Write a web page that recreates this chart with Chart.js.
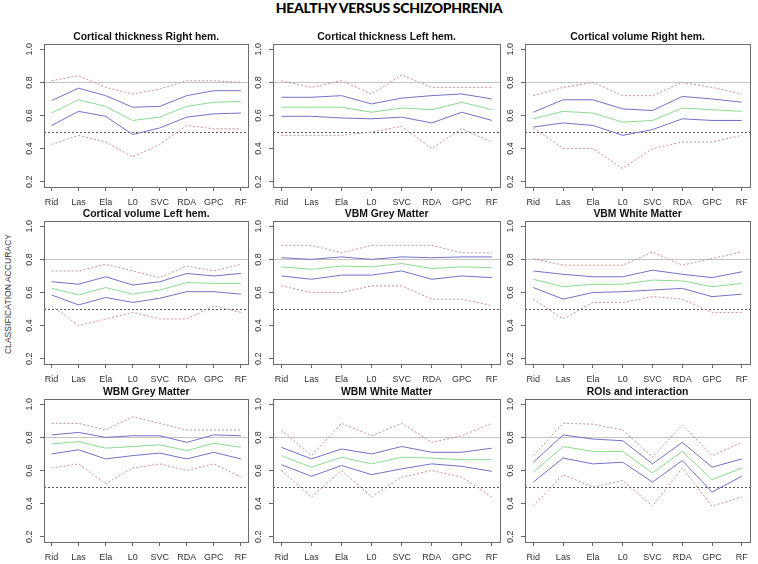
<!DOCTYPE html>
<html>
<head>
<meta charset="utf-8">
<script src="https://cdn.jsdelivr.net/npm/chart.js@4.4.0/dist/chart.umd.min.js"></script>
<style>
  html, body { margin: 0; padding: 0; background: #ffffff; }
  #page { position: relative; width: 758px; height: 564px; overflow: hidden; background: #fff; }
  .panel { position: absolute; }
  #mainTitle { position: absolute; left: 0; width: 778px; top: -1px; text-align: center;
    font-family: Lato, "Open Sans", sans-serif; font-weight: 900; font-size: 14px; color: #000; letter-spacing: -0.3px; }
  #yTitle { position: absolute; left: 8px; top: 294px; width: 0; height: 0; }
  #yTitle span { position: absolute; white-space: nowrap; transform: translate(-50%, -50%) rotate(-90deg);
    font-family: "Liberation Sans", Arial, sans-serif; font-size: 8.6px; color: #333; left: 0; top: 0; }
</style>
</head>
<body>
<div id="page">
  <div id="mainTitle">HEALTHY VERSUS SCHIZOPHRENIA</div>
  <div id="yTitle"><span>CLASSIFICATION ACCURACY</span></div>
</div>
<script>
// ---------- data ----------
const categories = ['Rid', 'Las', 'Ela', 'L0', 'SVC', 'RDA', 'GPC', 'RF'];
const yTickValues = [0.2, 0.4, 0.6, 0.8, 1.0];
const chanceLevel = 0.5;
const targetLevel = 0.8;

const panelTitles = [
  'Cortical thickness Right hem.', 'Cortical thickness Left hem.', 'Cortical volume Right hem.',
  'Cortical volume Left hem.', 'VBM Grey Matter', 'VBM White Matter',
  'WBM Grey Matter', 'WBM White Matter', 'ROIs and interaction'
];

// Cortical thickness Right hem.
const ctRightMax   = [0.81, 0.84, 0.77, 0.73, 0.76, 0.81, 0.81, 0.80];
const ctRightUpper = [0.69, 0.765, 0.72, 0.65, 0.655, 0.72, 0.75, 0.75];
const ctRightMean  = [0.615, 0.695, 0.655, 0.57, 0.59, 0.655, 0.68, 0.685];
const ctRightLower = [0.54, 0.625, 0.595, 0.485, 0.525, 0.59, 0.61, 0.615];
const ctRightMin   = [0.425, 0.48, 0.44, 0.35, 0.425, 0.54, 0.52, 0.52];

// Cortical thickness Left hem.
const ctLeftMax   = [0.81, 0.77, 0.81, 0.73, 0.845, 0.77, 0.77, 0.77];
const ctLeftUpper = [0.71, 0.71, 0.72, 0.67, 0.705, 0.72, 0.73, 0.70];
const ctLeftMean  = [0.65, 0.65, 0.65, 0.62, 0.645, 0.635, 0.68, 0.635];
const ctLeftLower = [0.595, 0.595, 0.585, 0.58, 0.59, 0.555, 0.62, 0.57];
const ctLeftMin   = [0.48, 0.48, 0.48, 0.50, 0.535, 0.40, 0.52, 0.44];

// Cortical volume Right hem.
const cvRightMax   = [0.72, 0.77, 0.80, 0.72, 0.72, 0.80, 0.77, 0.73];
const cvRightUpper = [0.62, 0.695, 0.695, 0.64, 0.63, 0.715, 0.70, 0.68];
const cvRightMean  = [0.58, 0.625, 0.615, 0.56, 0.57, 0.645, 0.635, 0.625];
const cvRightLower = [0.53, 0.555, 0.54, 0.48, 0.515, 0.58, 0.57, 0.57];
const cvRightMin   = [0.525, 0.40, 0.40, 0.28, 0.40, 0.44, 0.44, 0.48];

// Cortical volume Left hem.
const cvLeftMax   = [0.73, 0.73, 0.77, 0.73, 0.69, 0.76, 0.73, 0.77];
const cvLeftUpper = [0.665, 0.65, 0.695, 0.645, 0.665, 0.715, 0.70, 0.715];
const cvLeftMean  = [0.625, 0.585, 0.63, 0.59, 0.615, 0.66, 0.655, 0.655];
const cvLeftLower = [0.585, 0.525, 0.57, 0.54, 0.565, 0.605, 0.605, 0.59];
const cvLeftMin   = [0.52, 0.40, 0.44, 0.48, 0.44, 0.44, 0.52, 0.48];

// VBM Grey Matter
const vbmGreyMax   = [0.885, 0.885, 0.84, 0.885, 0.885, 0.885, 0.84, 0.84];
const vbmGreyUpper = [0.81, 0.80, 0.815, 0.80, 0.815, 0.81, 0.815, 0.815];
const vbmGreyMean  = [0.755, 0.74, 0.76, 0.755, 0.775, 0.745, 0.755, 0.75];
const vbmGreyLower = [0.70, 0.68, 0.705, 0.705, 0.73, 0.68, 0.70, 0.69];
const vbmGreyMin   = [0.64, 0.60, 0.60, 0.64, 0.64, 0.56, 0.56, 0.52];

// VBM White Matter
const vbmWhiteMax   = [0.805, 0.765, 0.765, 0.765, 0.845, 0.765, 0.805, 0.845];
const vbmWhiteUpper = [0.73, 0.71, 0.695, 0.695, 0.735, 0.71, 0.69, 0.725];
const vbmWhiteMean  = [0.68, 0.635, 0.65, 0.65, 0.675, 0.67, 0.635, 0.655];
const vbmWhiteLower = [0.63, 0.56, 0.60, 0.605, 0.615, 0.625, 0.575, 0.59];
const vbmWhiteMin   = [0.56, 0.44, 0.54, 0.54, 0.575, 0.56, 0.48, 0.48];

// WBM Grey Matter
const wbmGreyMax   = [0.885, 0.885, 0.845, 0.925, 0.885, 0.845, 0.845, 0.845];
const wbmGreyUpper = [0.815, 0.83, 0.80, 0.81, 0.81, 0.77, 0.815, 0.81];
const wbmGreyMean  = [0.76, 0.775, 0.735, 0.745, 0.755, 0.72, 0.765, 0.74];
const wbmGreyLower = [0.70, 0.725, 0.67, 0.69, 0.705, 0.67, 0.71, 0.67];
const wbmGreyMin   = [0.615, 0.64, 0.52, 0.615, 0.64, 0.60, 0.64, 0.56];

// WBM White Matter
const wbmWhiteMax   = [0.845, 0.69, 0.885, 0.81, 0.885, 0.77, 0.81, 0.885];
const wbmWhiteUpper = [0.74, 0.67, 0.73, 0.70, 0.745, 0.71, 0.71, 0.735];
const wbmWhiteMean  = [0.69, 0.62, 0.68, 0.64, 0.68, 0.675, 0.665, 0.665];
const wbmWhiteLower = [0.635, 0.565, 0.63, 0.575, 0.61, 0.64, 0.625, 0.595];
const wbmWhiteMin   = [0.60, 0.44, 0.60, 0.44, 0.56, 0.60, 0.56, 0.44];

// ROIs and interaction
const roisMax   = [0.69, 0.885, 0.88, 0.845, 0.68, 0.875, 0.69, 0.77];
const roisUpper = [0.65, 0.815, 0.79, 0.78, 0.64, 0.77, 0.62, 0.67];
const roisMean  = [0.59, 0.745, 0.715, 0.715, 0.585, 0.715, 0.545, 0.615];
const roisLower = [0.53, 0.675, 0.64, 0.65, 0.53, 0.66, 0.47, 0.565];
const roisMin   = [0.385, 0.575, 0.50, 0.54, 0.385, 0.615, 0.385, 0.44];

const panelSeries = [
  [ctRightMax, ctRightUpper, ctRightMean, ctRightLower, ctRightMin],
  [ctLeftMax, ctLeftUpper, ctLeftMean, ctLeftLower, ctLeftMin],
  [cvRightMax, cvRightUpper, cvRightMean, cvRightLower, cvRightMin],
  [cvLeftMax, cvLeftUpper, cvLeftMean, cvLeftLower, cvLeftMin],
  [vbmGreyMax, vbmGreyUpper, vbmGreyMean, vbmGreyLower, vbmGreyMin],
  [vbmWhiteMax, vbmWhiteUpper, vbmWhiteMean, vbmWhiteLower, vbmWhiteMin],
  [wbmGreyMax, wbmGreyUpper, wbmGreyMean, wbmGreyLower, wbmGreyMin],
  [wbmWhiteMax, wbmWhiteUpper, wbmWhiteMean, wbmWhiteLower, wbmWhiteMin],
  [roisMax, roisUpper, roisMean, roisLower, roisMin]
];

// ---------- layout / style ----------
const frameLeft  = [44, 273, 525];
const frameRight = [251, 502, 752];
const frameTop   = [44, 221, 399];
const frameBot   = [187, 364, 542];
const Y_AXIS_W = 40, X_AXIS_H = 22, TITLE_H = 13, RIGHT_PAD = 2;

const RED = '#d48c8c', BLUE = '#7272c6', GREEN = '#8cdc8c';
const seriesStyles = [
  { color: RED, dash: [2, 2] },
  { color: BLUE, dash: [] },
  { color: GREEN, dash: [] },
  { color: BLUE, dash: [] },
  { color: RED, dash: [2, 2] }
];

const framePlugin = {
  id: 'frameAndRefs',
  beforeDatasetsDraw(chart) {
    const { ctx, chartArea: a, scales } = chart;
    ctx.save();
    ctx.lineWidth = 1;
    const y8 = Math.round(scales.y.getPixelForValue(targetLevel)) + 0.5;
    ctx.strokeStyle = '#c4c4c4';
    ctx.setLineDash([]);
    ctx.beginPath(); ctx.moveTo(a.left, y8); ctx.lineTo(a.right, y8); ctx.stroke();
    const y5 = Math.round(scales.y.getPixelForValue(chanceLevel)) + 0.5;
    ctx.strokeStyle = '#555';
    ctx.setLineDash([2, 2]);
    ctx.beginPath(); ctx.moveTo(a.left, y5); ctx.lineTo(a.right, y5); ctx.stroke();
    ctx.restore();
  },
  afterDraw(chart) {
    const { ctx, chartArea: a } = chart;
    ctx.save();
    ctx.strokeStyle = '#6a6a6a';
    ctx.lineWidth = 1;
    ctx.strokeRect(Math.round(a.left) + 0.5, Math.round(a.top) + 0.5,
                   Math.round(a.right - a.left), Math.round(a.bottom - a.top));
    ctx.restore();
  }
};

const page = document.getElementById('page');
for (let p = 0; p < 9; p++) {
  const col = p % 3, row = Math.floor(p / 3);
  const fw = frameRight[col] - frameLeft[col];
  const fh = frameBot[row] - frameTop[row];
  const W = Y_AXIS_W + fw + RIGHT_PAD;
  const H = TITLE_H + fh + X_AXIS_H;
  const div = document.createElement('div');
  div.className = 'panel';
  div.style.left = (frameLeft[col] - Y_AXIS_W) + 'px';
  div.style.top = (frameTop[row] - TITLE_H) + 'px';
  div.style.width = W + 'px';
  div.style.height = H + 'px';
  const canvas = document.createElement('canvas');
  canvas.width = W; canvas.height = H;
  canvas.style.width = W + 'px'; canvas.style.height = H + 'px';
  div.appendChild(canvas);
  page.appendChild(div);

  const datasets = panelSeries[p].map((vals, i) => ({
    data: vals.map((v, k) => ({ x: k + 1, y: v })),
    borderColor: seriesStyles[i].color,
    borderDash: seriesStyles[i].dash,
    borderWidth: 1,
    pointRadius: 0,
    tension: 0,
    fill: false
  }));

  new Chart(canvas, {
    type: 'line',
    data: { datasets },
    plugins: [framePlugin],
    options: {
      responsive: false,
      animation: false,
      devicePixelRatio: 1,
      layout: { padding: { left: 0, right: RIGHT_PAD, top: 0, bottom: 0 } },
      plugins: {
        legend: { display: false },
        tooltip: { enabled: false },
        title: {
          display: true,
          text: panelTitles[p],
          fullSize: false,
          color: '#111',
          font: { family: '"Liberation Sans", Arial, sans-serif', size: 10.4, weight: 'bold', lineHeight: '12px' },
          padding: { top: 0, bottom: 1 }
        }
      },
      scales: {
        x: {
          type: 'linear',
          min: 0.72, max: 8.28,
          afterBuildTicks: (axis) => { axis.ticks = categories.map((c, i) => ({ value: i + 1 })); },
          afterFit: (axis) => { axis.height = X_AXIS_H; },
          border: { display: false },
          grid: { drawOnChartArea: false, drawTicks: true, tickLength: 4, color: '#6a6a6a' },
          ticks: {
            autoSkip: false, maxRotation: 0, minRotation: 0, padding: 6,
            color: '#333',
            font: { family: '"Liberation Sans", Arial, sans-serif', size: 9 },
            callback: (v) => categories[Math.round(v) - 1]
          }
        },
        y: {
          type: 'linear',
          min: 0.168, max: 1.032,
          afterBuildTicks: (axis) => { axis.ticks = yTickValues.map(v => ({ value: v })); },
          afterFit: (axis) => { axis.width = Y_AXIS_W; },
          border: { display: false },
          grid: { drawOnChartArea: false, drawTicks: true, tickLength: 4, color: '#6a6a6a' },
          ticks: {
            minRotation: 90, maxRotation: 90, crossAlign: 'center', padding: 4,
            color: '#333',
            font: { family: '"Liberation Sans", Arial, sans-serif', size: 9 },
            callback: (v) => v.toFixed(1)
          }
        }
      }
    }
  });
}
</script>
</body>
</html>
